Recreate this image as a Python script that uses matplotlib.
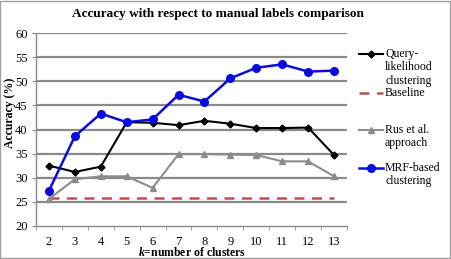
import numpy as np
import matplotlib.pyplot as plt
from matplotlib.lines import Line2D
from matplotlib.patches import Rectangle

plt.rcParams['font.family'] = ['Liberation Serif', 'DejaVu Serif']
plt.rcParams['mathtext.fontset'] = 'custom'
plt.rcParams['mathtext.it'] = 'Liberation Serif:italic:bold'
plt.rcParams['mathtext.rm'] = 'Liberation Serif:bold'

# data
k = [2, 3, 4, 5, 6, 7, 8, 9, 10, 11, 12, 13]
query = [32.5, 31.2, 32.3, 41.5, 41.4, 40.9, 41.8, 41.2, 40.3, 40.3, 40.4, 34.7]
baseline = [25.8] * 12
rus = [25.6, 29.7, 30.3, 30.3, 27.9, 34.9, 34.9, 34.8, 34.7, 33.4, 33.4, 30.3]
mrf = [27.3, 38.6, 43.3, 41.5, 42.1, 47.2, 45.8, 50.6, 52.8, 53.5, 52.0, 52.2]

fig = plt.figure(figsize=(4.51, 2.59), dpi=100)
ax = fig.add_axes([36 / 451, 33 / 259, 311 / 451, 193 / 259])

grid_c = '#8a8a8a'
for y in range(25, 61, 5):
    ax.axhline(y, color=grid_c, lw=1.6, zorder=1)

ax.plot(k, query, color='black', lw=1.5, marker='D', ms=3.5, zorder=4)
ax.plot(k, baseline, color='#c0504d', lw=1.8, ls=(0, (4, 3)), zorder=3)
ax.plot(k, rus, color='#8c8c8c', lw=1.5, marker='^', ms=5, zorder=3)
ax.plot(k, mrf, color='#0b0bdc', lw=1.8, marker='o', ms=5.5, zorder=5)

ax.set_xlim(1.5, 13.5)
ax.set_ylim(20, 60)
ax.set_yticks(range(20, 61, 5))
ax.set_xticks(k)
ax.set_xticks(np.arange(1.5, 14, 1), minor=True)
ax.tick_params(axis='x', which='major', length=0, labelsize=9, pad=7)
ax.tick_params(axis='x', which='minor', length=3, color=grid_c)
ax.tick_params(axis='y', length=3, color=grid_c, labelsize=9, pad=3)
for s in ['top', 'right']:
    ax.spines[s].set_visible(False)
for s in ['left', 'bottom']:
    ax.spines[s].set_color(grid_c)
    ax.spines[s].set_linewidth(1.0)

fig.text(192 / 451, 1 - 253 / 259, '$k$=number of clusters', ha='center', va='center',
         fontsize=8.5, fontweight='bold')
fig.text(10.5 / 451, 0.5 + 0.5 * 33 / 259, 'Accuracy (%)', rotation=90, ha='center',
         va='center', fontsize=8.5, fontweight='bold')
fig.text(218 / 451, 1 - 14 / 259, 'Accuracy with respect to manual labels comparison',
         ha='center', va='center', fontsize=9.5, fontweight='bold')

# legend drawn by hand to keep handles on the first text line
entries = [
    ('Query-\nlikelihood\nclustering', dict(color='black', lw=1.5, marker='D', ms=3.5), 54),
    ('Baseline', dict(color='#c0504d', lw=1.8, ls=(0, (4, 3))), 93),
    ('Rus et al.\napproach', dict(color='#8c8c8c', lw=1.5, marker='^', ms=5), 130),
    ('MRF-based\nclustering', dict(color='#0b0bdc', lw=1.8, marker='o', ms=5.5), 168),
]
for label, style, ypx in entries:
    yf = 1 - ypx / 259
    if 'marker' in style:
        line = Line2D([359 / 451, 371 / 451, 383 / 451], [yf, yf, yf],
                      transform=fig.transFigure, markevery=[1], **style)
    else:
        line = Line2D([359 / 451, 383 / 451], [yf, yf], transform=fig.transFigure, **style)
    fig.add_artist(line)
    fig.text(385 / 451, yf + 6 / 259, label, ha='left', va='top', fontsize=8.5,
             linespacing=1.15)

fig.add_artist(Rectangle((0.001, 0.002), 0.997, 0.995, transform=fig.transFigure,
                         fill=False, ec='#a0a0a0', lw=1))

fig.savefig('out.png', dpi=100)
